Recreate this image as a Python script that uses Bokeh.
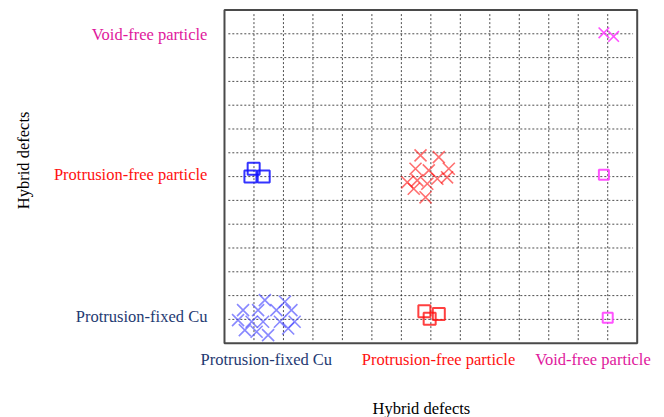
from bokeh.plotting import figure
from bokeh.models import Range1d
from bokeh.core.properties import value
from bokeh.embed import file_html
from bokeh.resources import INLINE
import math

# Category labels for the two defect axes
categories = ["Protrusion-fixed Cu", "Protrusion-free particle", "Void-free particle"]
category_colors = ["#1f3a72", "#ff1010", "#e0189c"]
axis_title = "Hybrid defects"

# Grid lines of the 0-14 category grid
grid_ticks = list(range(1, 14))
grid_lo, grid_hi = 0.13, 13.86

# Cluster: Protrusion-fixed Cu / Protrusion-fixed Cu (blue crosses)
blue_x_x = [1.37, 2.05, 0.63, 1.14, 1.76, 2.27, 0.46, 0.92, 1.31, 1.88, 2.38, 0.69, 1.09, 1.48, 2.16]
blue_x_y = [1.81, 1.74, 1.39, 1.39, 1.39, 1.39, 0.97, 0.90, 0.90, 0.90, 0.90, 0.55, 0.48, 0.34, 0.62]

# Cluster: Protrusion-fixed Cu / Protrusion-free particle (blue squares)
blue_sq_x = [0.99, 0.88, 1.33]
blue_sq_y = [7.33, 7.00, 7.00]

# Cluster: Protrusion-free particle / Protrusion-free particle (red crosses)
red_x_x = [6.65, 7.27, 7.61, 6.48, 6.93, 6.20, 6.54, 6.88, 7.22, 7.55, 6.82, 6.42]
red_x_y = [7.89, 7.82, 7.33, 7.33, 7.26, 6.76, 6.84, 6.70, 6.91, 6.97, 6.13, 6.49]

# Cluster: Protrusion-free particle / Protrusion-fixed Cu (red squares)
red_sq_x = [6.78, 7.27, 6.96]
red_sq_y = [1.34, 1.23, 1.03]

# Cluster: Void-free particle / Void-free particle (magenta crosses)
mag_x_x = [12.87, 13.20]
mag_x_y = [13.04, 12.89]

# Void-free particle against the other two categories (magenta squares)
mag_sq_x = [12.87, 13.00]
mag_sq_y = [7.08, 1.07]

# Label anchor positions (data units)
x_label_x = [1.42, 7.26, 12.5]
x_label_y = -0.68
y_label_x = -0.58
y_label_y = [1.12, 7.09, 12.96]

FONT = "Liberation Serif"
FONT_SIZE = "16.5px"

# The drawing area spans the whole page; the boxed grid covers 0..14 on both axes
p = figure(width=664, height=417, output_backend="svg", toolbar_location=None,
           x_range=Range1d(-7.598, 14.926), y_range=Range1d(-3.122, 14.399),
           x_axis_location=None, y_axis_location=None,
           min_border=0, min_border_left=0, min_border_right=0,
           min_border_top=0, min_border_bottom=0)
p.grid.visible = False
p.outline_line_color = None
p.background_fill_color = "white"
p.border_fill_color = "white"

# Dotted grid
p.segment(x0=grid_ticks, y0=[grid_lo] * len(grid_ticks),
          x1=grid_ticks, y1=[grid_hi] * len(grid_ticks),
          line_color="#222222", line_dash="2 2", line_alpha=0.8, line_width=1)
p.segment(x0=[grid_lo] * len(grid_ticks), y0=grid_ticks,
          x1=[grid_hi] * len(grid_ticks), y1=grid_ticks,
          line_color="#222222", line_dash="2 2", line_alpha=0.8, line_width=1)

# Markers
p.scatter(blue_x_x, blue_x_y, marker="x", size=17, line_color="#4a4aff",
          line_alpha=0.65, line_width=1.6)
p.scatter(red_x_x, red_x_y, marker="x", size=17, line_color="#ff1010",
          line_alpha=0.6, line_width=1.6)
p.scatter(mag_x_x, mag_x_y, marker="x", size=15, line_color="#ff30ff",
          line_alpha=0.85, line_width=1.6)
p.scatter(blue_sq_x, blue_sq_y, marker="square", size=12, fill_color=None,
          line_color="#1010ff", line_width=2, line_alpha=0.85)
p.scatter(red_sq_x, red_sq_y, marker="square", size=12, fill_color=None,
          line_color="#ff1010", line_width=2, line_alpha=0.8)
p.scatter(mag_sq_x, mag_sq_y, marker="square", size=10, fill_color=None,
          line_color="#ff40ff", line_width=2, line_alpha=0.9)

# Plot box
p.quad(left=[0], right=[14], bottom=[0], top=[14], fill_color=None,
       line_color="#4a4a4a", line_width=2)

# Category labels along the bottom and the left
p.text(x=x_label_x, y=[x_label_y] * 3, text=categories, text_color=category_colors,
       text_font=value(FONT), text_font_size=FONT_SIZE,
       text_align="center", text_baseline="middle")
p.text(x=[y_label_x] * 3, y=y_label_y, text=categories, text_color=category_colors,
       text_font=value(FONT), text_font_size=FONT_SIZE,
       text_align="right", text_baseline="middle")

# Axis titles
p.text(x=[6.68], y=[-2.75], text=[axis_title], text_color="black",
       text_font=value(FONT), text_font_size=FONT_SIZE,
       text_align="center", text_baseline="middle")
p.text(x=[-6.82], y=[7.68], text=[axis_title], text_color="black",
       text_font=value(FONT), text_font_size=FONT_SIZE, angle=math.pi / 2,
       text_align="center", text_baseline="middle")

open("out.html", "w").write(file_html(p, INLINE))
